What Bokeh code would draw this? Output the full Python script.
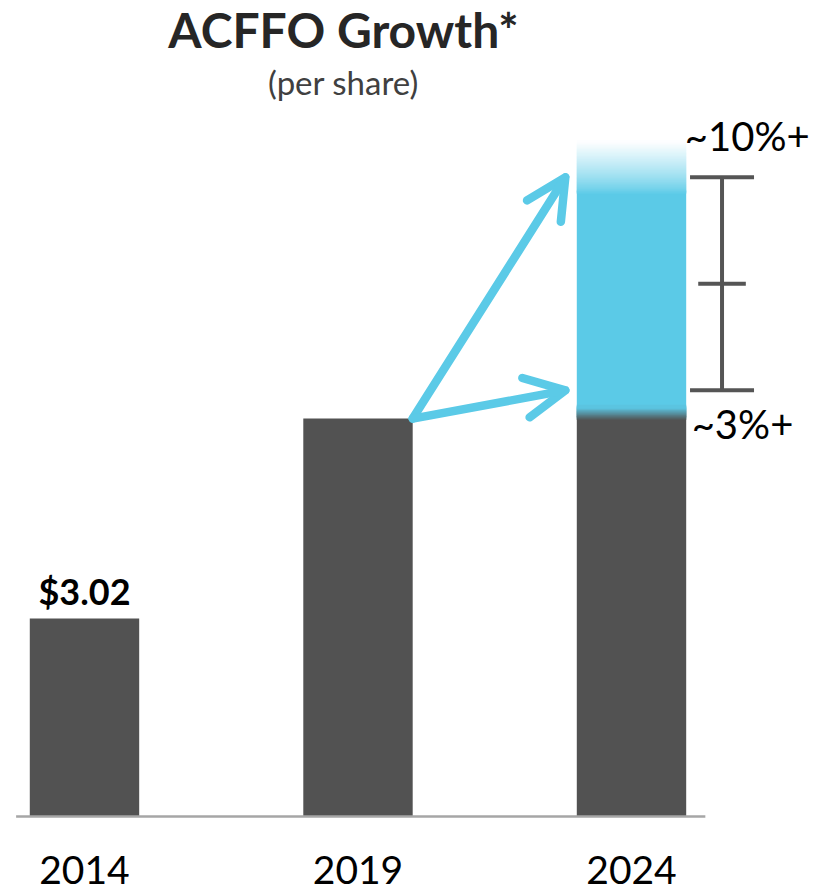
from bokeh.plotting import figure
from bokeh.models import (ColumnDataSource, Range1d, Arrow, OpenHead, Whisker,
                          TeeHead, Label)
from bokeh.core.properties import value
from bokeh.embed import file_html
from bokeh.resources import INLINE

# ---- data -------------------------------------------------------------
years = ["2014", "2019", "2024"]
acffo = [3.02, 6.07, 6.07]          # per-share ACFFO (dark bars)
value_labels = ["$3.02", "", ""]
growth_low = 6.50                   # ~3%+ outcome for 2024
growth_high = 9.75                  # ~10%+ outcome for 2024
growth_labels = ["~10%+", "~3%+"]
blue_solid_top = 9.50               # blue band is solid up to here
blue_fade_top = 10.30               # ...then fades out to white here

# ---- style ------------------------------------------------------------
DARK = "#525252"
BLUE = "#5bcae7"
WHISKER = "#555555"
AXIS = "#a6a6a6"
FONT = "Lato"
BAR_W = 0.40

x = list(range(len(years)))

p = figure(width=821, height=893, output_backend="svg", toolbar_location=None,
           x_range=Range1d(-0.3071, 2.6947), y_range=Range1d(-1.1745, 12.447),
           min_border=0, outline_line_color=None)
p.axis.visible = False
p.grid.visible = False
p.background_fill_color = "white"

# dark bars
src = ColumnDataSource(dict(x=x, top=acffo, year=years, lab=value_labels))
p.vbar(x="x", top="top", bottom=0, width=BAR_W, source=src,
       fill_color=DARK, line_color=None)

# 2024 growth band: solid blue with a soft top and a short blend at its base
i24 = years.index("2024")
base24 = acffo[i24]
p.quad(left=[i24 - BAR_W / 2], right=[i24 + BAR_W / 2],
       bottom=[base24], top=[blue_solid_top + 0.05], fill_color=BLUE, line_color=None)

def _mix(c1, c2, t):
    a = [int(c1[k:k + 2], 16) for k in (1, 3, 5)]
    b = [int(c2[k:k + 2], 16) for k in (1, 3, 5)]
    return "#%02x%02x%02x" % tuple(round(a[j] + (b[j] - a[j]) * t) for j in range(3))

# slices are drawn bottom-up, each overlapping the next one to hide seams
n_fade = 40
step = (blue_fade_top - blue_solid_top) / n_fade
p.quad(left=[i24 - BAR_W / 2] * n_fade, right=[i24 + BAR_W / 2] * n_fade,
       bottom=[blue_solid_top + k * step for k in range(n_fade)],
       top=[blue_solid_top + (k + 2) * step for k in range(n_fade)],
       fill_color=[_mix(BLUE, "#ffffff", ((k + 0.5) / n_fade) ** 0.8) for k in range(n_fade)],
       line_color=None)

n_blend = 10
blend_h = 0.19
bstep = blend_h / n_blend
p.quad(left=[i24 - BAR_W / 2] * n_blend, right=[i24 + BAR_W / 2] * n_blend,
       bottom=[base24 - 0.02 + k * bstep for k in range(n_blend)],
       top=[base24 + (k + 2) * bstep for k in range(n_blend)],
       fill_color=[_mix(DARK, BLUE, (k + 0.5) / n_blend) for k in range(n_blend)],
       line_color=None)

# baseline
p.segment(x0=[x[0] - BAR_W / 2 - 0.05], x1=[x[-1] + BAR_W / 2 + 0.07],
          y0=[0], y1=[0], line_color=AXIS, line_width=2.5)

# value label over 2014
p.text(x=[x[0]], y=[acffo[0]], text=[value_labels[0]], y_offset=-28,
       text_align="center", text_baseline="middle",
       text_font=value(FONT), text_font_style="bold",
       text_font_size="36px", text_color="#000000")

# year labels
p.text(x=x, y=[0] * len(x), text=years, y_offset=53,
       text_align="center", text_baseline="middle",
       text_font=value(FONT), text_font_size="39px", text_color="#000000")

# growth arrows from the 2019 bar to the 2024 range
i19 = years.index("2019")
for target in (growth_high, growth_low):
    p.add_layout(Arrow(
        x_start=i19 + BAR_W / 2, y_start=acffo[i19],
        x_end=i24 - BAR_W / 2 - 0.042, y_end=target,
        line_color=BLUE, line_width=8.5, line_cap="round",
        end=OpenHead(size=40, line_color=BLUE, line_width=8.5,
                     line_cap="round", line_join="round")))

# range whisker with a midpoint tick
wx = i24 + 0.331
p.add_layout(Whisker(
    source=ColumnDataSource(dict(base=[wx], lower=[growth_low], upper=[growth_high])),
    base="base", lower="lower", upper="upper", dimension="height",
    line_color=WHISKER, line_width=4,
    lower_head=TeeHead(size=64, line_color=WHISKER, line_width=4),
    upper_head=TeeHead(size=64, line_color=WHISKER, line_width=4)))
mid = (growth_low + growth_high) / 2
p.segment(x0=[wx - 0.087], x1=[wx + 0.087], y0=[mid], y1=[mid],
          line_color=WHISKER, line_width=4)

# growth labels
p.text(x=[i24 + BAR_W / 2 - 0.005, i24 + BAR_W / 2 + 0.02],
       y=[blue_fade_top, base24], text=growth_labels, y_offset=[-5, 5],
       text_align="left", text_baseline="middle",
       text_font=value(FONT), text_font_size="40px", text_color="#000000")

# title
p.add_layout(Label(x=343, y=864, x_units="screen", y_units="screen",
                   text="ACFFO Growth*", text_align="center",
                   text_baseline="alphabetic", text_font=FONT,
                   text_font_style="bold", text_font_size="48px",
                   text_color="#262626"))
p.add_layout(Label(x=343, y=812, x_units="screen", y_units="screen",
                   text="(per share)", text_align="center",
                   text_baseline="alphabetic", text_font=FONT,
                   text_font_size="33px", text_color="#404040"))

open("out.html", "w").write(file_html(p, INLINE))
